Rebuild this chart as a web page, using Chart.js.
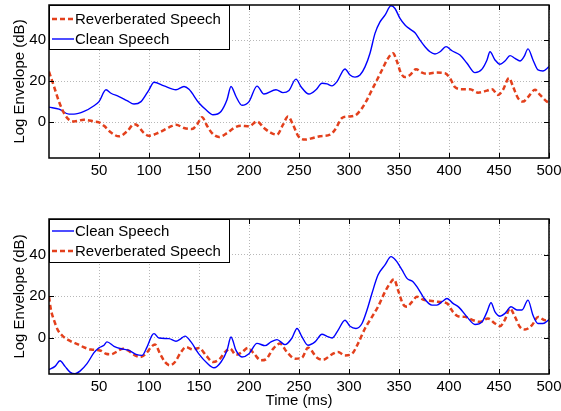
<!DOCTYPE html>
<html><head><meta charset="utf-8">
<script src="https://cdn.jsdelivr.net/npm/chart.js@4"></script>
<style>
body{margin:0;background:#fff;width:561px;height:411px;overflow:hidden;position:relative}
#c1{position:absolute;left:0;top:0}
#c2{position:absolute;left:0;top:205px}
</style>
</head><body>
<canvas id="c1" width="561" height="185"></canvas>
<canvas id="c2" width="561" height="206"></canvas>
<script>
const xTicks = [50,100,150,200,250,300,350,400,450,500];
const yTicks = [0,20,40];
const labelClean = 'Clean Speech';
const labelReverb = 'Reverberated Speech';
const xTitle = 'Time (ms)';
const yTitle = 'Log Envelope (dB)';

// top panel
const topCleanT = [0,10,20,25,35,45,50,57,62,70,78,85,92,100,105,115,127,135,140,150,157,164,172,178,182,187,193,200,208,215,227,234,240,247,252,260,267,273,278,283,288,296,301,306,311,316,321,326,331,336,342,346,351,356,361,366,371,376,381,386,391,397,403,411,418,426,433,438,441,446,451,456,461,466,471,475,479,484,489,494,500];
const topCleanV = [7.3,6.3,3.9,3.9,5.2,8,10,15.8,14.1,12.5,10.5,8.8,10,15.8,19.5,17.7,15.8,17.4,16,9.3,6,3.6,5.2,10.9,17.4,12.5,8.2,10,17.6,13.7,15.8,14.4,15.5,21,17.3,13.7,15.8,19,18.7,17.7,19.8,26,23,22,23,27,33.7,43.4,49,52.3,56.9,55.6,50.7,47.5,45.5,43.7,40.1,36.9,34.4,33.3,34.4,36.9,34.9,32.8,28.8,24.2,25.9,30.4,34.4,30.4,28.3,29.9,32.5,31.2,29.9,32,35.8,30.4,25.5,25,27.1];
const topReverbT = [0,5,10,15,20,25,35,45,50,55,62,70,78,85,88,95,100,110,120,127,135,143,148,153,158,163,170,178,185,192,200,208,215,222,228,234,239,244,249,256,264,271,281,286,293,299,306,313,318,323,328,333,338,344,348,352,356,361,367,373,378,386,396,401,406,413,421,429,438,443,449,454,460,464,469,474,479,486,491,498,500];
const topReverbV = [24.7,17.4,10,4.4,1.1,0.3,1.1,0.3,-0.2,-1.8,-5.1,-7,-4.6,-1.1,-1.5,-5.4,-6.7,-5.1,-2.6,-1.3,-2.9,-3.4,-1.3,2.4,-1.8,-5.4,-7.3,-5.4,-2.9,-1.8,-2.1,0.3,-2.9,-5.3,-6.2,-1.3,2.7,-1.3,-6.7,-8.6,-7.8,-7,-6.2,-3.8,2,2.7,3.2,6.8,10.9,15.8,20.6,25.5,30.4,33.7,29.6,23.9,22,23,25.9,24.2,23.6,24.2,23.9,21.5,17.1,16.1,16.1,14.4,15.4,16.1,13.3,15.8,21.5,17.4,11.7,10,12.2,15.8,13.3,10,9.5];

// bottom panel
const botCleanT = [0,6,11,16,21,26,31,38,45,50,55,58,65,72,80,87,93,98,103,105,110,120,127,132,136,142,150,158,165,172,178,182,187,193,200,208,216,222,228,236,243,248,253,259,266,273,278,283,289,296,301,307,313,318,323,329,336,342,347,353,358,364,369,376,383,388,393,398,404,410,418,426,433,438,442,446,451,456,462,468,473,479,484,489,494,500];
const botCleanV = [-15.5,-13.9,-11.2,-13.9,-16.7,-17.5,-16.2,-12.6,-7.3,-4.9,-3.7,-2.1,-4.2,-5.4,-6.2,-8.1,-8.6,-4.6,1.1,1.9,-0.2,-0.5,-1.8,-0.5,0.7,-2.1,-8,-12.3,-14.6,-11.8,-6.2,0.3,-6.2,-9.4,-7.8,-2.8,-3.9,-2.1,-1,-3.4,-0.2,4.4,0.3,-3.7,-2.1,1.6,0.6,-0.2,3.5,8.4,5.5,4.4,6.8,13.3,21.4,30.2,35.1,39.1,37.2,32.7,28.6,27,23.8,18.4,15.7,15.7,17.3,18.9,16.5,14.6,10,6.3,7.6,12.4,16.8,12.4,10.3,11.7,14.9,13.3,13.3,18.1,10.8,6.8,6.8,8.7];
const botReverbT = [0,2,5,9,14,21,29,36,42,51,57,62,67,74,79,86,91,97,102,106,111,116,121,126,132,137,144,150,157,164,171,176,181,187,193,199,205,212,217,224,231,238,246,253,259,268,274,283,289,296,303,309,316,323,329,336,341,345,349,354,358,363,368,374,381,389,398,404,409,416,424,431,439,446,451,456,461,466,471,476,483,489,496,500];
const botReverbV = [19.7,13.3,8.4,3.5,0.6,-1.6,-3.3,-4.9,-5.8,-6.2,-7.8,-8.1,-7,-5.4,-6.2,-8.6,-9.4,-7.8,-4.6,-3.3,-7.8,-11.8,-13.4,-11.8,-7,-4.6,-5.8,-5,-8.6,-11.8,-10.2,-7,-5.4,-8.3,-7,-5,-7.8,-11,-10.5,-5.5,-2.9,-7,-10.2,-9.7,-4.9,-9.7,-10.7,-8.1,-7,-8.6,-7.8,-2.9,4.4,10,14.9,22.1,26.2,28.2,23,16.2,14.9,17.3,19.7,18.4,17.8,17.3,16.5,12.4,10.3,10,8.4,7.6,9.2,6.8,5.5,8.7,14.1,10,5.1,3.9,6,10,8.4,8.7];

const FONT = '"Liberation Sans", Arial, Helvetica, sans-serif';
const BLUE = '#0000ff';
const RED = '#e3401c';

function pts(T, V){ return T.map((t,i)=>({x:t, y:V[i]})); }

function cleanDs(T,V){ return {label:labelClean, data:pts(T,V), borderColor:BLUE, borderWidth:1.4, pointRadius:0, cubicInterpolationMode:'monotone', fill:false}; }
function reverbDs(T,V){ return {label:labelReverb, data:pts(T,V), borderColor:RED, borderWidth:2.5, borderDash:[5,3], pointRadius:0, cubicInterpolationMode:'monotone', fill:false}; }

const framePlugin = {
  id:'frame',
  afterDraw(chart, args, opts){
    const {ctx, chartArea:a} = chart;
    const x = chart.scales.x, y = chart.scales.y;
    ctx.save();
    ctx.strokeStyle = '#000';
    ctx.lineWidth = 1;
    ctx.beginPath();
    xTicks.forEach(v=>{
      const px = Math.round(x.getPixelForValue(v))+0.5;
      ctx.moveTo(px, a.bottom); ctx.lineTo(px, a.bottom-5);
      ctx.moveTo(px, a.top); ctx.lineTo(px, a.top+5);
    });
    yTicks.forEach(v=>{
      const py = Math.round(y.getPixelForValue(v))+0.5;
      ctx.moveTo(a.left, py); ctx.lineTo(a.left+5, py);
      ctx.moveTo(a.right, py); ctx.lineTo(a.right-5, py);
    });
    ctx.stroke();
    ctx.lineWidth = 1.5;
    ctx.strokeRect(a.left, a.top, a.right-a.left, a.bottom-a.top);
    // legend
    const L = opts.legend;
    const lx = a.left+0.5, ly = a.top+0.5;
    ctx.fillStyle = '#fff';
    ctx.fillRect(lx, ly, L.w, L.h);
    ctx.lineWidth = 1;
    ctx.strokeStyle = '#000';
    ctx.strokeRect(lx, ly, L.w, L.h);
    ctx.font = '15px ' + FONT;
    ctx.textBaseline = 'middle';
    ctx.textAlign = 'left';
    L.order.forEach((di, k)=>{
      const ds = chart.data.datasets[di];
      const yy = a.top + L.rows[k];
      ctx.save();
      ctx.strokeStyle = ds.borderColor;
      ctx.lineWidth = ds.borderWidth;
      ctx.setLineDash(ds.borderDash || []);
      ctx.beginPath();
      ctx.moveTo(a.left+3, yy); ctx.lineTo(a.left+25, yy);
      ctx.stroke();
      ctx.restore();
      ctx.fillStyle = '#000';
      ctx.fillText(ds.label, a.left+26, yy+1);
    });
    ctx.restore();
  }
};

function makeOptions(cfg){
  return {
    responsive:false, animation:false,
    layout:{padding:{top:cfg.padTop, right:12, left:0, bottom:0}},
    plugins:{legend:{display:false}, tooltip:{enabled:false}, frame:{legend:cfg.legend}},
    scales:{
      x:{type:'linear', min:0, max:500,
        afterBuildTicks:s=>{s.ticks = xTicks.map(v=>({value:v}));},
        afterFit:s=>{s.height = cfg.xH; s.paddingLeft = 0; s.paddingRight = 0;},
        ticks:{color:'#000', font:{size:15, family:FONT}, padding:4, maxRotation:0, autoSkip:false},
        grid:{color:'#b8b8b8', lineWidth:1, drawTicks:false},
        border:{display:false, dash:[1,2]},
        title:{display:cfg.xTitle, text:xTitle, color:'#000', font:{size:15, family:FONT}, padding:{top:0,bottom:1}}
      },
      y:{type:'linear', min:-17.6, max:57.3,
        afterBuildTicks:s=>{s.ticks = yTicks.map(v=>({value:v}));},
        afterFit:s=>{s.width = 49; s.paddingTop = 0; s.paddingBottom = 0;},
        ticks:{color:'#000', font:{size:15, family:FONT}, padding:3},
        grid:{color:'#b8b8b8', lineWidth:1, drawTicks:false},
        border:{display:false, dash:[1,2]},
        title:{display:true, text:yTitle, color:'#000', font:{size:15, family:FONT}, padding:{top:11,bottom:0}}
      }
    }
  };
}

new Chart(document.getElementById('c1'), {
  type:'line',
  data:{datasets:[reverbDs(topReverbT, topReverbV), cleanDs(topCleanT, topCleanV)]},
  options:makeOptions({padTop:5, xH:27, xTitle:false, legend:{w:180, h:44, order:[0,1], rows:[14,34]}}),
  plugins:[framePlugin]
});
new Chart(document.getElementById('c2'), {
  type:'line',
  data:{datasets:[cleanDs(botCleanT, botCleanV), reverbDs(botReverbT, botReverbV)]},
  options:makeOptions({padTop:14, xH:37, xTitle:true, legend:{w:180, h:43, order:[0,1], rows:[12,32]}}),
  plugins:[framePlugin]
});
</script>
</body></html>
